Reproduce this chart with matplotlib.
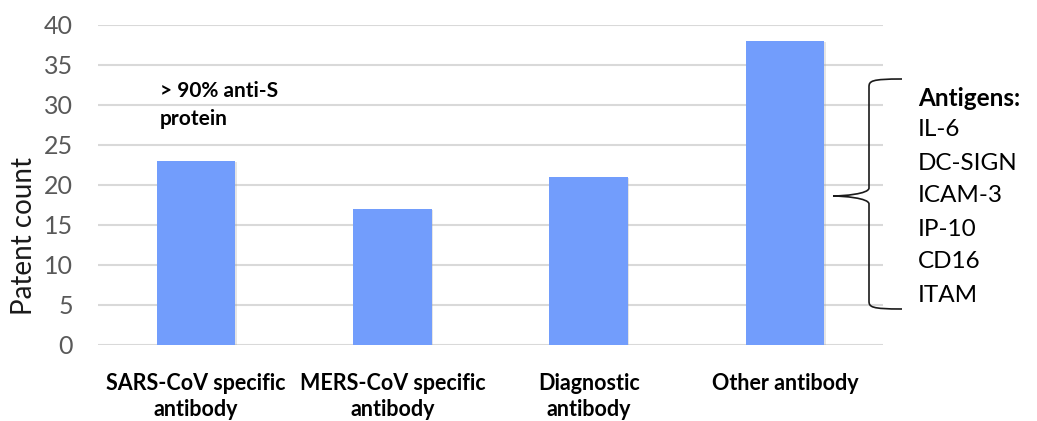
import matplotlib
matplotlib.use("Agg")
import matplotlib.pyplot as plt
from matplotlib.path import Path
from matplotlib.patches import PathPatch
import matplotlib.patheffects as pe

categories = ["SARS-CoV specific\nantibody", "MERS-CoV specific\nantibody",
              "Diagnostic\nantibody", "Other antibody"]
patent_counts = [23, 17, 21, 38]
y_ticks = [0, 5, 10, 15, 20, 25, 30, 35, 40]
antigens = ["IL-6", "DC-SIGN", "ICAM-3", "IP-10", "CD16", "ITAM"]
note_text = "> 90% anti-S\nprotein"

plt.rcParams["font.family"] = ["Lato", "DejaVu Sans"]

W, H = 1037, 421
fig = plt.figure(figsize=(W / 100, H / 100), dpi=100)
ax = fig.add_axes([98 / W, 1 - 345 / H, (883 - 98) / W, (345 - 25) / H])

x = range(len(categories))
bars = ax.bar(x, patent_counts, width=0.40, color="#729dfc", zorder=3)
for b in bars:
    b.set_path_effects([pe.SimplePatchShadow(offset=(1.0, -1.0), shadow_rgbFace="#aaaaaa", alpha=0.3),
                        pe.Normal()])

ax.set_xlim(-0.5, len(categories) - 0.5)
ax.set_ylim(0, 40)
ax.set_yticks(y_ticks)
ax.yaxis.grid(True, color="#d9d9d9", linewidth=1.5, zorder=0)
ax.set_axisbelow(True)
for s in ax.spines.values():
    s.set_visible(False)
ax.tick_params(axis="both", length=0)
ax.tick_params(axis="y", labelsize=18, labelcolor="#595959", pad=18)
ax.set_xticks(list(x))
ax.set_xticklabels(categories, fontsize=15.5, fontweight="bold", color="black",
                   linespacing=1.3)
ax.tick_params(axis="x", pad=20)
ax.set_ylabel("Patent count", fontsize=20, color="#1a1a1a")
ax.yaxis.set_label_coords(-0.078, 0.34)

# note above the first bar
fig.text(160 / W, 1 - 105 / H, note_text, fontsize=15, fontweight="bold",
         color="black", va="center", ha="left", linespacing=1.45)

# curly brace grouping the antigen list
def fp(px, py):
    return (px / W, 1 - py / H)

xr, xv, xt = 902, 869, 833
yt, ym, yb = 79, 196, 309
verts = [fp(xr, yt), fp(xv + 2, yt), fp(xv, yt + 2), fp(xv, yt + 8),
         fp(xv, ym - 8),
         fp(xv, ym - 2), fp(xt + 10, ym), fp(xt, ym),
         fp(xt + 10, ym), fp(xv, ym + 2), fp(xv, ym + 8),
         fp(xv, yb - 8),
         fp(xv, yb - 2), fp(xv + 2, yb), fp(xr, yb)]
codes = [Path.MOVETO, Path.CURVE4, Path.CURVE4, Path.CURVE4,
         Path.LINETO,
         Path.CURVE4, Path.CURVE4, Path.CURVE4,
         Path.CURVE4, Path.CURVE4, Path.CURVE4,
         Path.LINETO,
         Path.CURVE4, Path.CURVE4, Path.CURVE4]
brace = PathPatch(Path(verts, codes), facecolor="none", edgecolor="#1a1a1a",
                  linewidth=1.2, transform=fig.transFigure)
fig.patches.append(brace)

fig.text(918 / W, 1 - 98 / H, "Antigens:", fontsize=17.5, fontweight="bold",
         color="black", va="center", ha="left")
for i, name in enumerate(antigens):
    fig.text(918 / W, 1 - (130 + 33 * i) / H, name, fontsize=17.5,
             color="black", va="center", ha="left")

fig.savefig("out.png", dpi=100, facecolor="white")
